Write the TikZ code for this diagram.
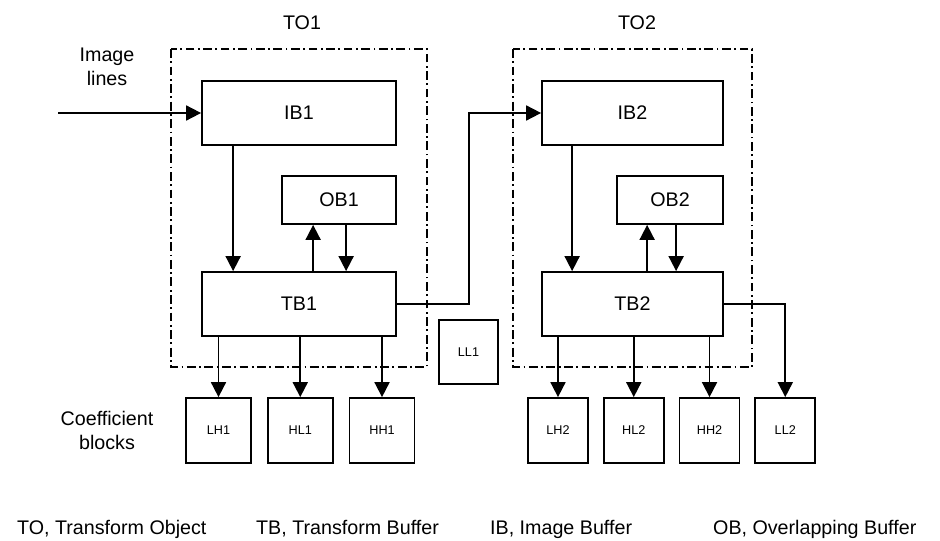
\documentclass[tikz,border=0pt]{standalone}
\usepackage{fontspec}
\setmainfont{Liberation Sans}
\usetikzlibrary{positioning,calc,arrows.meta}

\begin{document}
\begin{tikzpicture}[node distance=0.3cm,
  font=\fontsize{11.2}{14}\selectfont,
  buf/.style={draw,line width=1pt,minimum height=1.28cm,inner sep=0pt},
  coef/.style={draw,line width=1pt,minimum width=1.3cm,minimum height=1.3cm,inner sep=0pt,font=\fontsize{7.2}{8}\selectfont},
  tobox/.style={line width=0.9pt,dash pattern={on 5pt off 2pt on 1pt off 2pt}},
  arr/.style={line width=1pt,-{Triangle[length=0.3cm,width=0.3cm]}}]
\useasboundingbox (0,0) rectangle (18.8,-10.8);
% transform objects
\draw[tobox] (3.42,-0.98) rectangle (8.54,-7.34);
\draw[tobox] (10.26,-0.98) rectangle (15.04,-7.34);
\node (to1) at (6.04,-0.46) {TO1};
\node (to2) at (12.74,-0.46) {TO2};
% buffers
\node[buf,minimum width=3.88cm] (ib1) at (5.98,-2.26) {IB1};
\node[buf,minimum width=2.28cm,minimum height=0.96cm] (ob1) at (6.78,-4.0) {OB1};
\node[buf,minimum width=3.88cm] (tb1) at (5.98,-6.08) {TB1};
\node[buf,minimum width=3.62cm] (ib2) at (12.65,-2.26) {IB2};
\node[buf,minimum width=2.12cm,minimum height=0.96cm] (ob2) at (13.4,-4.0) {OB2};
\node[buf,minimum width=3.62cm] (tb2) at (12.65,-6.08) {TB2};
\node[coef,minimum width=1.18cm,minimum height=1.28cm] (ll1) at (9.37,-7.04) {LL1};
% coefficient blocks
\node[coef] (lh1) at (4.37,-8.61) {LH1};
\node[coef,right=of lh1] (hl1) {HL1};
\node[coef,right=of hl1] (hh1) {HH1};
\node[coef,minimum width=1.2cm] (lh2) at (11.16,-8.61) {LH2};
\node[coef,minimum width=1.2cm,right=0.28cm of lh2] (hl2) {HL2};
\node[coef,minimum width=1.2cm,right=0.28cm of hl2] (hh2) {HH2};
\node[coef,minimum width=1.2cm,right=0.28cm of hh2] (ll2) {LL2};
% labels
\node[align=center] (imglines) at (2.14,-1.34) {Image\\lines};
\node[align=center] (coefblk) at (2.14,-8.61) {Coefficient\\blocks};
\node[anchor=west] (lgto) at (0.22,-10.58) {TO, Transform Object};
\node[anchor=west] (lgtb) at (5.0,-10.58) {TB, Transform Buffer};
\node[anchor=west] (lgib) at (9.68,-10.58) {IB, Image Buffer};
\node[anchor=west] (lgob) at (14.14,-10.58) {OB, Overlapping Buffer};
% connectors
\coordinate (in) at (1.16,-2.26);
\draw[arr] (in) -- (ib1.west);
\draw[arr] ([xshift=0.64cm]ib1.south west) -- ([xshift=0.64cm]tb1.north west);
\draw[arr] ([xshift=0.64cm]tb1.north -| ob1.south west) -- ([xshift=0.64cm]ob1.south west);
\draw[arr] ([xshift=1.3cm]ob1.south west) -- ([xshift=1.3cm]tb1.north -| ob1.south west);
\draw[arr] ([xshift=0.62cm]ib2.south west) -- ([xshift=0.62cm]tb2.north west);
\draw[arr] ([xshift=0.62cm]tb2.north -| ob2.south west) -- ([xshift=0.62cm]ob2.south west);
\draw[arr] ([xshift=1.2cm]ob2.south west) -- ([xshift=1.2cm]tb2.north -| ob2.south west);
\draw[arr] (tb1.east) -- ++(1.44,0) |- (ib2.west);
\foreach \c in {lh1,hl1,hh1}
  \draw[arr] (tb1.south -| \c) -- (\c.north);
\foreach \c in {lh2,hl2,hh2}
  \draw[arr] (tb2.south -| \c) -- (\c.north);
\draw[arr] (tb2.east) -| (ll2.north);
\end{tikzpicture}
\end{document}
